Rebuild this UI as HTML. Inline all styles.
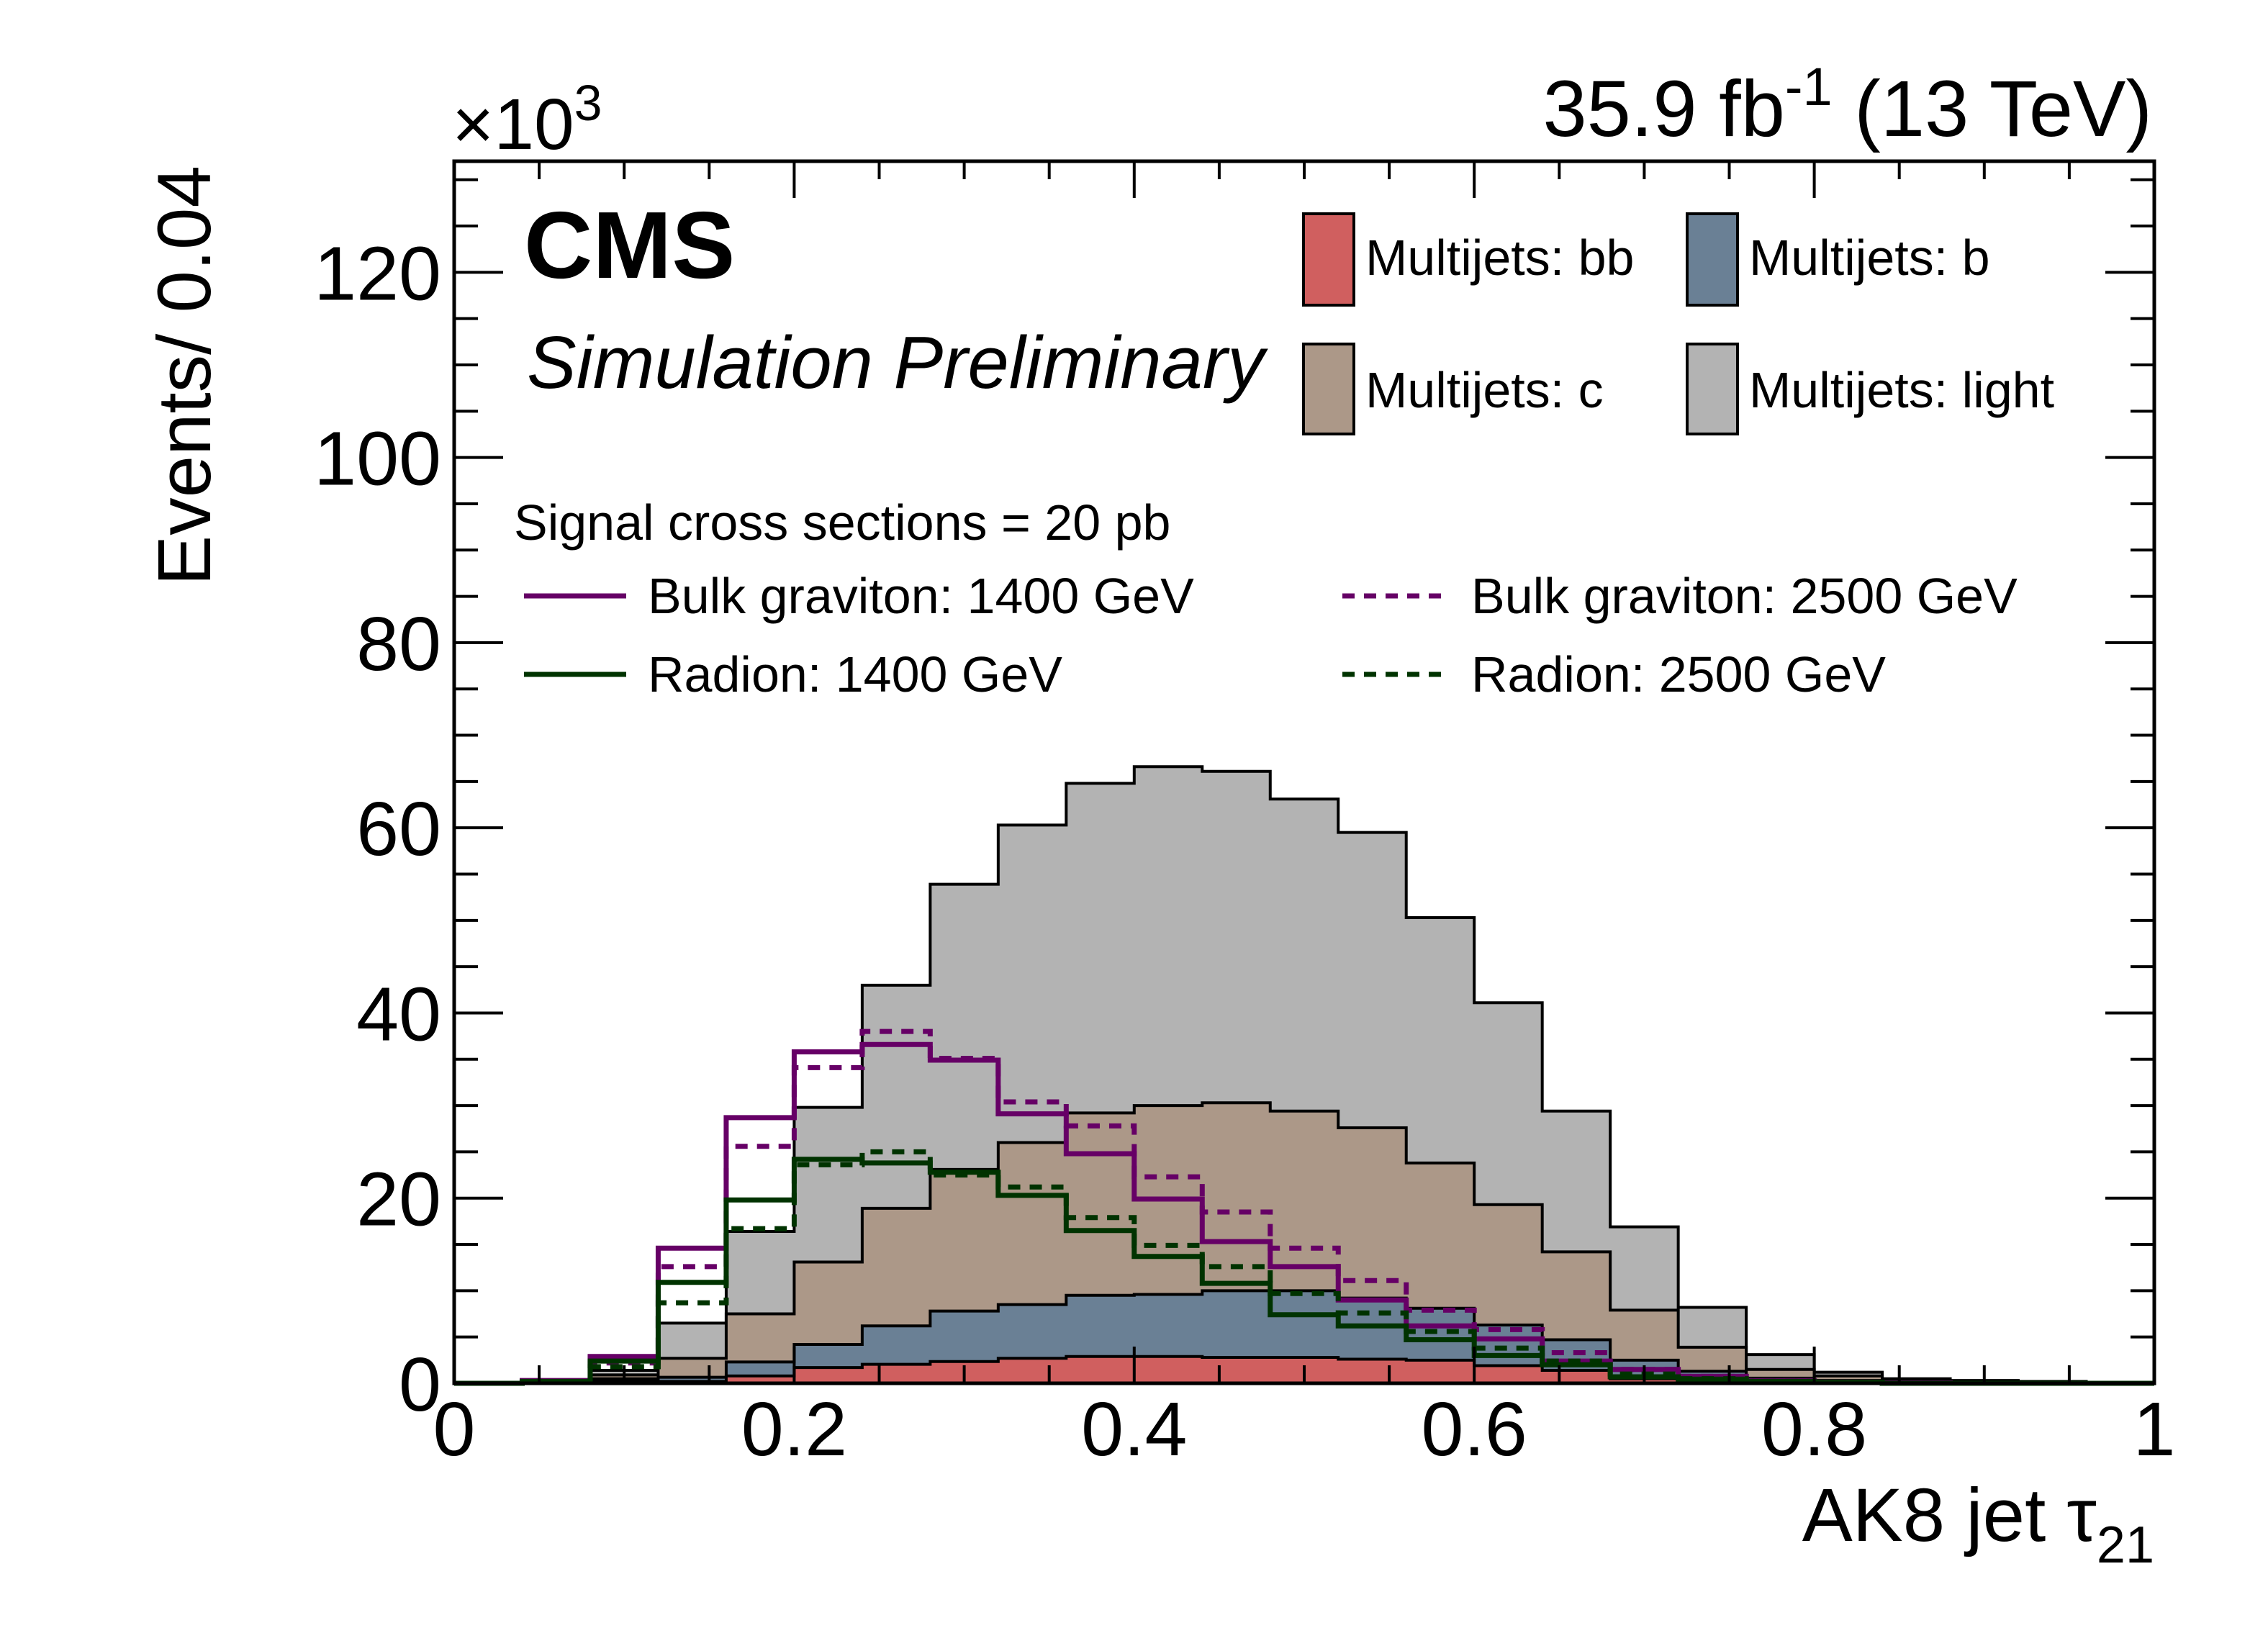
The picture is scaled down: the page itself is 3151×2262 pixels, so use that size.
<!DOCTYPE html>
<html><head><meta charset="utf-8"><style>
html,body{margin:0;padding:0;background:#fff;}
svg{display:block;font-family:"Liberation Sans",Arial,sans-serif;}
</style></head><body>
<svg id="chart" width="3151" height="2262" viewBox="0 0 3151 2262" xmlns="http://www.w3.org/2000/svg">
<rect x="0" y="0" width="3151" height="2262" fill="#fff"/>
<g id="hists"></g>
<g id="axes"></g>
<text x="628" y="207" font-size="100">×10<tspan font-size="70" dy="-40">3</tspan></text>
<text x="2990" y="189" font-size="110" text-anchor="end">35.9 fb<tspan font-size="74" dy="-43">-1</tspan><tspan dy="43"> (13 TeV)</tspan></text>
<text x="728" y="386" font-size="132" font-weight="bold">CMS</text>
<text x="732" y="539" font-size="103" font-style="italic">Simulation Preliminary</text>
<text transform="translate(292,522) rotate(-90)" font-size="105" text-anchor="middle">Events/ 0.04</text>
<text x="2993" y="2141" font-size="105" text-anchor="end">AK8 jet τ<tspan font-size="72" dy="30">21</tspan></text>
<g font-size="70">
  <g><rect x="1811" y="297" width="70" height="127" fill="#d05f5f" stroke="#000" stroke-width="4"/><text x="1897" y="382">Multijets: bb</text></g>
  <g><rect x="2344" y="297" width="70" height="127" fill="#6a8095" stroke="#000" stroke-width="4"/><text x="2430" y="382">Multijets: b</text></g>
  <g><rect x="1811" y="478" width="70" height="125" fill="#ac9888" stroke="#000" stroke-width="4"/><text x="1897" y="566">Multijets: c</text></g>
  <g><rect x="2344" y="478" width="70" height="125" fill="#b3b3b3" stroke="#000" stroke-width="4"/><text x="2430" y="566">Multijets: light</text></g>
  <text x="714" y="750">Signal cross sections = 20 pb</text>
  <g><line x1="728" y1="828" x2="870" y2="828" stroke="#660066" stroke-width="7"/><text x="900" y="852">Bulk graviton: 1400 GeV</text></g>
  <g><line x1="1865" y1="828" x2="2010" y2="828" stroke="#660066" stroke-width="7" stroke-dasharray="17,13"/><text x="2044" y="852">Bulk graviton: 2500 GeV</text></g>
  <g><line x1="728" y1="937" x2="870" y2="937" stroke="#003300" stroke-width="7"/><text x="900" y="961">Radion: 1400 GeV</text></g>
  <g><line x1="1865" y1="937" x2="2010" y2="937" stroke="#003300" stroke-width="7" stroke-dasharray="17,13"/><text x="2044" y="961">Radion: 2500 GeV</text></g>
</g>
</svg>
<script>
const binEdgesStart = 0, binWidth = 0.04;
const bbVals =    [0,0.02,0.2,0.2,0.8,1.7,2.05,2.35,2.7,2.9,2.9,2.8,2.8,2.6,2.5,1.9,1.4,0.5,0.35,0.2,0.1,0.05,0.02,0.01,0];
const bVals =     [0,0.03,0.3,0.45,1.5,2.5,4.15,5.45,5.8,6.6,6.7,7.2,7.2,6.6,5.6,4.4,3.3,2.0,0.95,0.35,0.2,0.05,0.03,0.02,0.02];
const cVals =     [0,0.05,0.4,2.05,5.2,8.9,12.7,15.3,17.5,19.7,20.4,20.3,19.4,18.4,15.7,13.0,9.5,5.4,2.6,0.95,0.5,0.1,0.05,0.02,0.02];
const lightVals = [0.05,0.2,0.5,3.8,8.9,16.7,24.1,30.8,34.3,35.6,36.6,35.8,33.7,31.9,26.5,21.8,15.2,9.0,4.3,1.6,0.4,0.3,0.2,0.15,0.06];
const grav1400 = [0,0.3,2.9,14.6,28.7,35.8,36.6,34.9,29.1,24.8,19.9,15.3,12.6,9.0,6.2,4.8,2.4,1.5,0.75,0.3,0.1,0.05,0,0,0];
const grav2500 = [0,0.2,2.2,12.6,25.6,34.1,38.0,35.1,30.4,27.8,22.3,18.5,14.6,11.1,7.9,5.8,3.3,1.5,0.75,0.3,0.1,0.05,0,0,0];
const rad1400 =  [0,0.2,2.4,10.9,19.8,24.2,23.8,22.8,20.3,16.5,13.7,10.8,7.4,6.2,4.7,3.0,2.0,0.7,0.45,0.2,0.1,0,0,0,0];
const rad2500 =  [0,0.1,1.8,8.7,16.7,23.6,25.0,22.5,21.2,17.9,14.9,12.6,9.7,7.6,5.6,3.8,2.4,1.0,0.5,0.2,0.1,0,0,0,0];
const xTickLabels = ["0","0.2","0.4","0.6","0.8","1"];
const yTickLabels = ["0","20","40","60","80","100","120"];

const L=631,R=2993,T=224,B=1922,XMAX=1,YMAX=132;
const sx=v=>L+(v/XMAX)*(R-L);
const sy=v=>B-(v/YMAX)*(B-T);
const NS="http://www.w3.org/2000/svg";
const hg=document.getElementById('hists'), ag=document.getElementById('axes');
function mk(tag,attrs,parent){const e=document.createElementNS(NS,tag);for(const k in attrs)e.setAttribute(k,attrs[k]);parent.appendChild(e);return e;}

function stepPath(vals, closed){
  let d='M'+sx(binEdgesStart)+','+sy(0);
  for(let i=0;i<vals.length;i++){
    const x0=sx(binEdgesStart+i*binWidth), x1=sx(binEdgesStart+(i+1)*binWidth), y=sy(vals[i]);
    d+=' L'+x0+','+y+' L'+x1+','+y;
  }
  d+=' L'+sx(binEdgesStart+vals.length*binWidth)+','+sy(0);
  if(closed) d+=' Z';
  return d;
}
const n=bbVals.length;
const s1=[],s2=[],s3=[],s4=[];
for(let i=0;i<n;i++){s1.push(bbVals[i]);s2.push(s1[i]+bVals[i]);s3.push(s2[i]+cVals[i]);s4.push(s3[i]+lightVals[i]);}
const stacks=[[s4,'#b3b3b3','stack-light'],[s3,'#ac9888','stack-c'],[s2,'#6a8095','stack-b'],[s1,'#d05f5f','stack-bb']];
for(const [vals,col,name] of stacks){
  const p=mk('path',{d:stepPath(vals,true),fill:col,stroke:'#000','stroke-width':4,'stroke-linejoin':'miter'},hg);
  
  
}
const sigs=[[grav1400,'#660066',null,'signal-graviton-1400'],[grav2500,'#660066','17,13','signal-graviton-2500'],[rad1400,'#003300',null,'signal-radion-1400'],[rad2500,'#003300','17,13','signal-radion-2500']];
for(const [vals,col,dash,name] of sigs){
  const a={d:stepPath(vals,false),fill:'none',stroke:col,'stroke-width':7};
  if(dash)a['stroke-dasharray']=dash;
  const p=mk('path',a,hg);
  
  
}
const fr=mk('rect',{x:L,y:T,width:R-L,height:B-T,fill:'none',stroke:'#000','stroke-width':5},ag);


for(let k=0;k<=20;k++){
  const v=k*0.05, x=sx(v), major=(k%4===0), len=major?51:25;
  mk('line',{x1:x,y1:B,x2:x,y2:B-len,stroke:'#000','stroke-width':4},ag);
  mk('line',{x1:x,y1:T,x2:x,y2:T+len,stroke:'#000','stroke-width':4},ag);
}
xTickLabels.forEach((lab,i)=>{
  const t=mk('text',{x:sx(i*0.2),y:2022,'font-size':106,'text-anchor':'middle'},ag);
  t.textContent=lab;
  
  
});
for(let k=0;k*5<=YMAX;k++){
  const v=k*5, y=sy(v), major=(k%4===0), len=major?68:33;
  mk('line',{x1:L,y1:y,x2:L+len,y2:y,stroke:'#000','stroke-width':4},ag);
  mk('line',{x1:R,y1:y,x2:R-len,y2:y,stroke:'#000','stroke-width':4},ag);
}
yTickLabels.forEach((lab,i)=>{
  const t=mk('text',{x:613,y:sy(i*20)+38,'font-size':106,'text-anchor':'end'},ag);
  t.textContent=lab;
  
  
});
</script>
</body></html>
